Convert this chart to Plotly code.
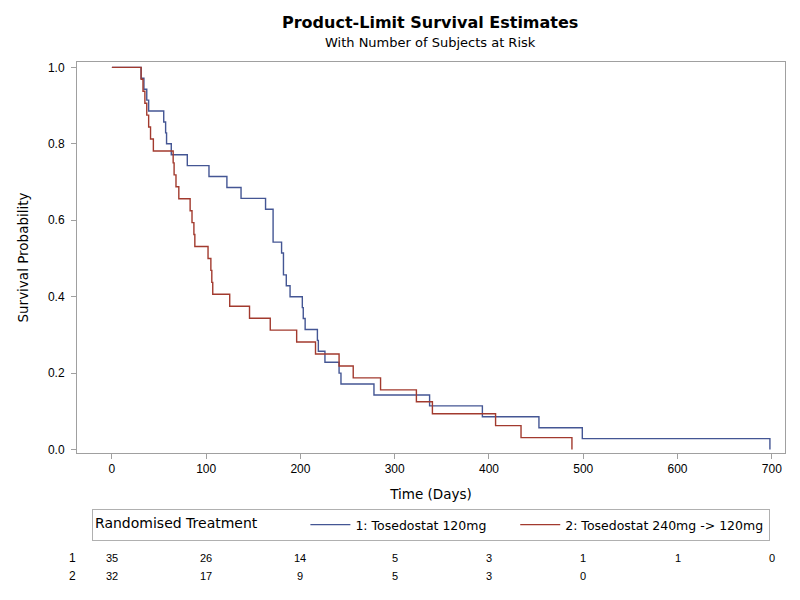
import plotly.graph_objects as go

# ---- data ----
group_names = ["1: Tosedostat 120mg", "2: Tosedostat 240mg -> 120mg"]
blue_event_days = [31, 34, 37, 39, 55, 57, 58, 63, 80, 103, 122, 137, 163,
                   171, 171, 171, 180, 182, 182, 185, 189, 202, 203, 205,
                   218, 219, 226, 241, 243, 278, 337, 393, 453, 499, 698]
red_event_days = [31, 33, 35, 37, 39, 41, 44, 65, 66, 68, 71, 83, 85, 87, 88,
                  102, 105, 106, 107, 125, 146, 168, 196, 216, 241, 256, 285,
                  323, 340, 407, 434, 488]
risk_times = [0, 100, 200, 300, 400, 500, 600, 700]
risk_group1 = [35, 26, 14, 5, 3, 1, 1, 0]
risk_group2 = [32, 17, 9, 5, 3, 0, None, None]
y_ticks = [0.0, 0.2, 0.4, 0.6, 0.8, 1.0]

BLUE = "#445694"
RED = "#A23A2E"
TXT = "DejaVu Sans, Verdana, sans-serif"
NUM = "Liberation Sans, Arial, sans-serif"
NB = "\u00a0"


def km_steps(times):
    xs, ys = [0], [1.0]
    s = 1.0
    at_risk = len(times)
    for t in sorted(set(times)):
        d = times.count(t)
        s *= (1 - d / at_risk)
        at_risk -= d
        xs.append(t)
        ys.append(s)
    return xs, ys


fig = go.Figure()
legend_labels = [group_names[0] + NB * 6, group_names[1]]
for times, name, col in [(blue_event_days, legend_labels[0], BLUE),
                         (red_event_days, legend_labels[1], RED)]:
    xs, ys = km_steps(times)
    fig.add_trace(go.Scatter(x=xs, y=ys, mode="lines", line_shape="hv",
                             line=dict(color=col, width=1.4), name=name))

# page body has an 8px margin: work in screen pixels and convert
OFF = 8
W, H = 792, 592
L, R, T, B = 77 - OFF, 15, 62 - OFF, 147
pw, ph = W - L - R, H - T - B


def py(screen_y):
    return (H - B - (screen_y - OFF)) / ph


def px(screen_x):
    return ((screen_x - OFF) - L) / pw


annotations = []
for row_y, label, vals in [(558, "1", risk_group1), (576, "2", risk_group2)]:
    annotations.append(dict(x=px(67), y=py(row_y), xref="paper", yref="paper",
                            text=label, showarrow=False, yanchor="middle",
                            font=dict(size=12, color="#000", family=NUM)))
    for t, v in zip(risk_times, vals):
        if v is None:
            continue
        annotations.append(dict(x=t, y=py(row_y), xref="x", yref="paper",
                                text=str(v), showarrow=False, yanchor="middle",
                                font=dict(size=11, color="#000", family=NUM)))

annotations.append(dict(x=px(430), y=py(42), xref="paper", yref="paper",
                        text="With Number of Subjects at Risk", showarrow=False,
                        yanchor="middle",
                        font=dict(size=13, color="#000", family=TXT)))
annotations.append(dict(x=px(430), y=py(22), xref="paper", yref="paper",
                        text="<b>Product-Limit Survival Estimates</b>", showarrow=False,
                        yanchor="middle",
                        font=dict(size=16, color="#000", family=TXT)))

fig.update_layout(
    width=W, height=H,
    margin=dict(l=L, r=R, t=T, b=B, autoexpand=False),
    paper_bgcolor="white", plot_bgcolor="white",
    font=dict(family=TXT, size=12, color="#000"),
    xaxis=dict(range=[-37, 714], tickvals=risk_times, ticks="outside", ticklen=5,
               tickcolor="#a0a0a0", showline=True, linecolor="#a0a0a0", linewidth=1,
               mirror=True, showgrid=False, zeroline=False,
               tickfont=dict(size=12, family=NUM),
               title=dict(text="Time (Days)", font=dict(size=13.5, family=TXT),
                          standoff=14)),
    yaxis=dict(range=[-0.009, 1.014], tickvals=y_ticks, tickformat=".1f",
               ticks="outside", ticklen=5, tickcolor="#a0a0a0", showline=True,
               linecolor="#a0a0a0", linewidth=1, mirror=True, showgrid=False,
               zeroline=False, tickfont=dict(size=12, family=NUM),
               ticklabelstandoff=4,
               title=dict(text="Survival Probability", font=dict(size=13.5, family=TXT),
                          standoff=16)),
    legend=dict(orientation="h", x=px(92), xanchor="left", y=py(525),
                yanchor="middle", bordercolor="#b0b0b0", borderwidth=1,
                title=dict(text="Randomised Treatment" + NB * 9, side="left",
                           font=dict(size=14, family=TXT)),
                font=dict(size=12.5, family=TXT), itemwidth=40,
                tracegroupgap=0),
    annotations=annotations,
)

fig.write_html("out.html")
